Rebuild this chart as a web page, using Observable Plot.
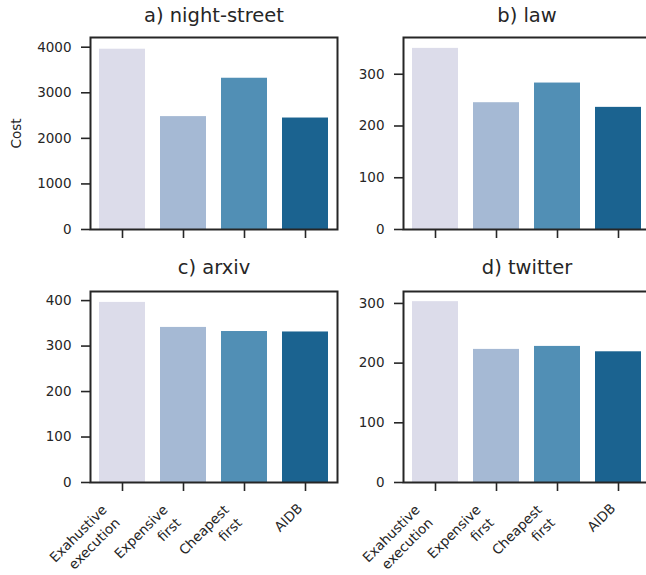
<!DOCTYPE html>
<html><head><meta charset="utf-8">
<script src="https://cdn.jsdelivr.net/npm/d3@7"></script>
<script src="https://cdn.jsdelivr.net/npm/@observablehq/plot@0.6"></script>
<style>
html,body{margin:0;padding:0;background:#fff;overflow:hidden;}
#chart{position:relative;width:646px;height:575px;overflow:hidden;font-family:"DejaVu Sans",sans-serif;}
#chart svg{position:absolute;}
</style></head><body><div id="chart"></div>
<script>
// ---- data ----
const methods = ["Exahustive\nexecution", "Expensive\nfirst", "Cheapest\nfirst", "AIDB"];
const colors = ["#dcdcea", "#a5b9d4", "#518fb5", "#1b6390"];
const titles = ["a) night-street", "b) law", "c) arxiv", "d) twitter"];
const nightStreet = [3956, 2477, 3319, 2446];
const law = [350, 245, 283, 236];
const arxiv = [396, 341, 332, 331];
const twitter = [303, 223, 228, 219];
const yMax = [4213, 371, 420, 320];
const yTicks = [[0, 1000, 2000, 3000, 4000], [0, 100, 200, 300], [0, 100, 200, 300, 400], [0, 100, 200, 300]];
const yLabel = "Cost";

const series = [nightStreet, law, arxiv, twitter];
const layout = [
  {left: 0, top: 0, width: 340, height: 260, ml: 90, mr: 3, mt: 37, mb: 31, xlabels: false, ylabel: true, tdy: -16},
  {left: 320, top: 0, width: 330, height: 260, ml: 83, mr: 0, mt: 37, mb: 31, xlabels: false, ylabel: false, tdy: -16},
  {left: 0, top: 250, width: 340, height: 325, ml: 90, mr: 3, mt: 41, mb: 93, xlabels: true, ylabel: false, tdy: -18},
  {left: 320, top: 250, width: 330, height: 325, ml: 83, mr: 0, mt: 41, mb: 93, xlabels: true, ylabel: false, tdy: -18}
];
const ink = "#262626";
const fs = 13.5;
const container = document.getElementById("chart");

series.forEach((vals, i) => {
  const L = layout[i];
  const data = methods.map((m, j) => ({method: m, value: vals[j]}));
  const marks = [
    Plot.barY(data, {x: "method", y: "value", fill: "method"}),
    Plot.axisY({ticks: yTicks[i], tickSize: 9, tickPadding: 10, fontSize: fs, strokeWidth: 1.6, label: null, tickFormat: d => String(d)}),
    Plot.axisX({tickSize: 9, tickFormat: () => "", label: null, strokeWidth: 1.6}),
    Plot.frame({stroke: ink, strokeWidth: 2}),
    Plot.text([titles[i]], {frameAnchor: "top", lineAnchor: "bottom", dy: L.tdy, fontSize: 19.5, fill: ink})
  ];
  if (L.ylabel) {
    marks.push(Plot.text([yLabel], {frameAnchor: "left", rotate: -90, lineAnchor: "middle", textAnchor: "middle", dx: -74, fontSize: fs, fill: ink}));
  }
  if (L.xlabels) {
    marks.push(Plot.text(methods.filter(m => m.includes("\n")), {x: d => d, frameAnchor: "bottom", rotate: -45, textAnchor: "end", lineAnchor: "top", lineHeight: 1.36, dx: -24, dy: 19, fontSize: fs, fill: ink}));
    marks.push(Plot.text(methods.filter(m => !m.includes("\n")), {x: d => d, frameAnchor: "bottom", rotate: -45, textAnchor: "end", lineAnchor: "top", dx: -9, dy: 20, fontSize: fs, fill: ink}));
  }
  const svg = Plot.plot({
    width: L.width, height: L.height,
    marginLeft: L.ml, marginRight: L.mr, marginTop: L.mt, marginBottom: L.mb,
    style: {fontFamily: "'DejaVu Sans', sans-serif", fontSize: fs + "px", color: ink, background: "transparent", overflow: "visible"},
    x: {domain: methods, paddingInner: 0.25, paddingOuter: 0.125, axis: null},
    y: {domain: [0, yMax[i]], axis: null},
    color: {domain: methods, range: colors},
    marks
  });
  svg.style.left = L.left + "px";
  svg.style.top = L.top + "px";
  container.appendChild(svg);
});
</script>
</body></html>
